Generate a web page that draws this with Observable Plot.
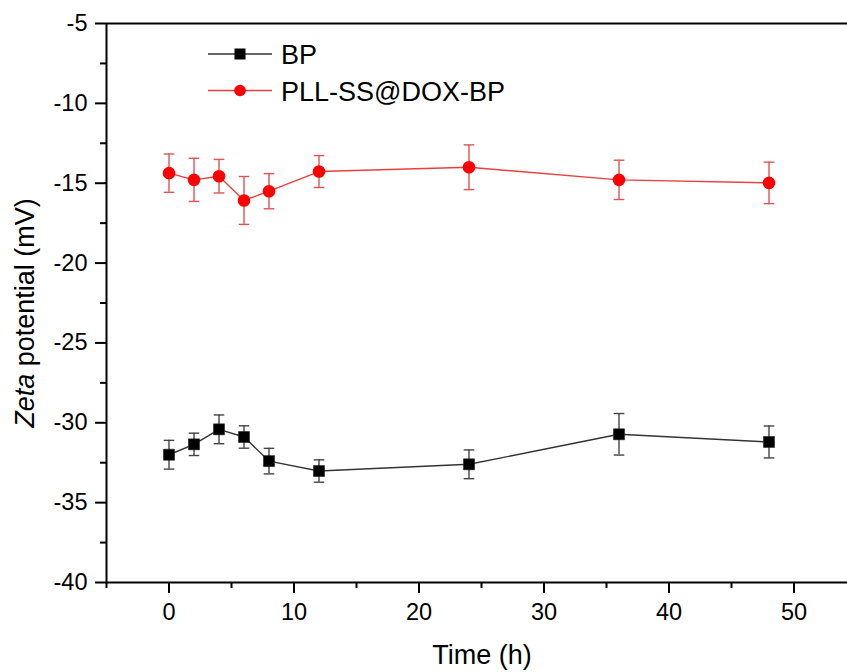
<!DOCTYPE html>
<html>
<head>
<meta charset="utf-8">
<script src="https://cdn.jsdelivr.net/npm/d3@7"></script>
<script src="https://cdn.jsdelivr.net/npm/@observablehq/plot@0.6"></script>
<style>
  html, body { margin: 0; padding: 0; background: #fff; }
  #chart { width: 847px; height: 672px; }
</style>
</head>
<body>
<div id="chart"></div>
<script>
// ---- data ----
const times = [0, 2, 4, 6, 8, 12, 24, 36, 48];
const bpMean = [-32.0, -31.35, -30.41, -30.89, -32.4, -33.02, -32.6, -30.72, -31.2];
const bpErr = [0.9, 0.7, 0.9, 0.7, 0.8, 0.7, 0.9, 1.3, 1.0];
const pllMean = [-14.37, -14.79, -14.56, -16.08, -15.5, -14.27, -14.0, -14.79, -14.98];
const pllErr = [1.2, 1.35, 1.05, 1.5, 1.1, 1.0, 1.4, 1.23, 1.3];
const seriesNames = ["BP", "PLL-SS@DOX-BP"];
const xMajor = [0, 10, 20, 30, 40, 50];
const xMinor = [-5, 5, 15, 25, 35, 45];
const yMajor = [-5, -10, -15, -20, -25, -30, -35, -40];
const yMinor = [-7.5, -12.5, -17.5, -22.5, -27.5, -32.5, -37.5];
const xDomain = [-5, 54.28];
const yDomain = [-40, -5];
const xLabel = "Time (h)";
const yLabelItalic = "Zeta";
const yLabelRest = " potential (mV)";

const bp = times.map((t, i) => ({t, v: bpMean[i], e: bpErr[i]}));
const pll = times.map((t, i) => ({t, v: pllMean[i], e: pllErr[i]}));

const cap = {
  draw(ctx, size) {
    const w = Math.sqrt(size / Math.PI);
    ctx.moveTo(-w, 0);
    ctx.lineTo(w, 0);
  }
};

const BLACK_LINE = "#333";
const BLACK_ERR = "#444";
const RED = "#ff0000";
const RED_LINE = "#e8403e";
const RED_ERR = "#e25252";

const errMarks = (data, color) => [
  Plot.ruleX(data, {x: "t", y1: d => d.v - d.e, y2: d => d.v + d.e, stroke: color, strokeWidth: 1.4}),
  Plot.dot(data, {x: "t", y: d => d.v + d.e, symbol: cap, r: 5.3, stroke: color, strokeWidth: 1.4, fill: "none"}),
  Plot.dot(data, {x: "t", y: d => d.v - d.e, symbol: cap, r: 5.3, stroke: color, strokeWidth: 1.4, fill: "none"})
];

const fmt = d => String(d);

const plot = Plot.plot({
  width: 847,
  height: 672,
  marginLeft: 106,
  marginRight: 0,
  marginTop: 23,
  marginBottom: 90,
  style: {fontFamily: "'Liberation Sans', Arial, sans-serif", fontSize: "23px", color: "#000", background: "#fff"},
  x: {domain: xDomain, label: null},
  y: {domain: yDomain, label: null},
  marks: [
    Plot.axisX(xMajor, {tickSize: 11, tickPadding: 10, strokeWidth: 2, fontSize: 23.5, tickFormat: fmt, label: null}),
    Plot.axisX(xMinor, {tickSize: 6, tickFormat: () => "", strokeWidth: 2, label: null}),
    Plot.axisY(yMajor, {tickSize: 11, tickPadding: 8, strokeWidth: 2, fontSize: 23.5, tickFormat: fmt, label: null}),
    Plot.axisY(yMinor, {tickSize: 6, tickFormat: () => "", strokeWidth: 2, label: null}),
    Plot.ruleX([xDomain[0]], {stroke: "#000", strokeWidth: 2}),
    Plot.ruleY([yDomain[0]], {stroke: "#000", strokeWidth: 2}),
    Plot.ruleY([yDomain[1]], {stroke: "#000", strokeWidth: 2}),
    ...errMarks(bp, BLACK_ERR),
    ...errMarks(pll, RED_ERR),
    Plot.line(bp, {x: "t", y: "v", stroke: BLACK_LINE, strokeWidth: 1.4}),
    Plot.line(pll, {x: "t", y: "v", stroke: RED_LINE, strokeWidth: 1.4}),
    Plot.dot(bp, {x: "t", y: "v", symbol: "square", r: 6.2, fill: "#000", stroke: "#222", strokeWidth: 0.6}),
    Plot.dot(pll, {x: "t", y: "v", symbol: "circle", r: 6.3, fill: RED, stroke: "none"})
  ]
});

document.getElementById("chart").appendChild(plot);

const svg = d3.select(plot);
const font = "'Liberation Sans', Arial, sans-serif";

// Axis titles
svg.append("text")
  .attr("x", 482).attr("y", 664)
  .attr("text-anchor", "middle")
  .attr("font-family", font).attr("font-size", 27).attr("fill", "#000")
  .text(xLabel);

const yl = svg.append("text")
  .attr("transform", "translate(34,313) rotate(-90)")
  .attr("text-anchor", "middle")
  .attr("font-family", font).attr("font-size", 27).attr("fill", "#000");
yl.append("tspan").attr("font-style", "italic").text(yLabelItalic);
yl.append("tspan").text(yLabelRest);

// Legend
const lg = svg.append("g");
const rows = [
  {name: seriesNames[0], y: 54, line: BLACK_LINE, kind: "square"},
  {name: seriesNames[1], y: 90.5, line: RED_LINE, kind: "circle"}
];
rows.forEach(r => {
  lg.append("line").attr("x1", 208).attr("x2", 272).attr("y1", r.y).attr("y2", r.y)
    .attr("stroke", r.line).attr("stroke-width", 1.4);
  if (r.kind === "square") {
    lg.append("rect").attr("x", 240 - 5.5).attr("y", r.y - 5.5).attr("width", 11).attr("height", 11).attr("fill", "#000");
  } else {
    lg.append("circle").attr("cx", 240).attr("cy", r.y).attr("r", 5.8).attr("fill", RED);
  }
  lg.append("text").attr("x", 281).attr("y", r.y + 10)
    .attr("text-anchor", "start")
    .attr("font-family", font).attr("font-size", 27).attr("fill", "#000")
    .text(r.name);
});
</script>
</body>
</html>
